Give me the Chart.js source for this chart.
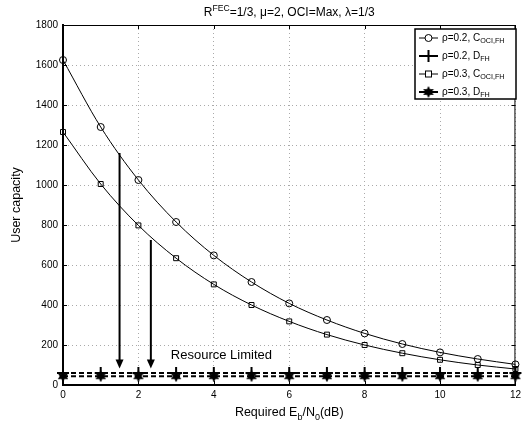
<!DOCTYPE html>
<html>
<head>
<meta charset="utf-8">
<script src="https://cdn.jsdelivr.net/npm/chart.js@4.4.0/dist/chart.umd.min.js"></script>
<style>
    html, body { margin: 0; padding: 0; background: #fff; }
    #wrap { width: 525px; height: 430px; }
</style>
</head>
<body>
<div id="wrap"><canvas id="capacityChart"></canvas></div>
<script>
const ebno = [0, 1, 2, 3, 4, 5, 6, 7, 8, 9, 10, 11, 12];
const capRho02 = [1625, 1290, 1025, 815, 648, 515, 408, 325, 258, 205, 163, 130, 103];
const capRho03 = [1265, 1005, 798, 634, 503, 400, 318, 252, 200, 159, 126, 100, 80];
const dRho02 = [60, 60, 60, 60, 60, 60, 60, 60, 60, 60, 60, 60, 60];
const dRho03 = [44, 44, 44, 44, 44, 44, 44, 44, 44, 44, 44, 44, 44];

// arrows pointing down to the resource limited level
const arrowX = [1.5, 2.33];
const arrowTop = [1160, 725];
const arrowTip = [83, 83];
const noteText = 'Resource Limited';
const noteAt = [2.86, 150];

const FONT = "'Liberation Sans', Arial, sans-serif";
const font = (size) => size + 'px ' + FONT;

function makeStar(size) {
    const c = document.createElement('canvas');
    c.width = c.height = size;
    const g = c.getContext('2d');
    const r = size / 2;
    g.fillStyle = '#000';
    g.beginPath();
    for (let i = 0; i < 12; i++) {
        const a = -Math.PI / 2 + i * Math.PI / 6;
        const rr = i % 2 === 0 ? r : r * 0.55;
        g.lineTo(r + rr * Math.cos(a), r + rr * Math.sin(a));
    }
    g.closePath();
    g.fill();
    return c;
}
const star = makeStar(12);

const toPoints = (ys) => ebno.map((x, i) => ({ x: x, y: ys[i] }));

function drawRich(ctx, parts, x, y, size, align) {
    let w = 0;
    parts.forEach(p => {
        ctx.font = font(p.sub || p.sup ? size * 0.72 : size);
        w += ctx.measureText(p.t).width;
    });
    let cx = align === 'center' ? x - w / 2 : x;
    ctx.textAlign = 'left';
    ctx.textBaseline = 'middle';
    parts.forEach(p => {
        const s = p.sub || p.sup ? size * 0.72 : size;
        ctx.font = font(s);
        const dy = p.sub ? size * 0.35 : (p.sup ? -size * 0.4 : 0);
        ctx.fillText(p.t, cx, y + dy);
        cx += ctx.measureText(p.t).width;
    });
}

const legendItems = [
    { parts: [{ t: 'ρ=0.2, C' }, { t: 'OCI,FH', sub: true }], mark: 'circle', lw: 1 },
    { parts: [{ t: 'ρ=0.2, D' }, { t: 'FH', sub: true }], mark: 'plus', lw: 2 },
    { parts: [{ t: 'ρ=0.3, C' }, { t: 'OCI,FH', sub: true }], mark: 'square', lw: 1 },
    { parts: [{ t: 'ρ=0.3, D' }, { t: 'FH', sub: true }], mark: 'star', lw: 2 }
];

function drawMark(ctx, kind, x, y) {
    ctx.save();
    ctx.strokeStyle = '#000';
    ctx.fillStyle = '#fff';
    if (kind === 'circle') {
        ctx.lineWidth = 1;
        ctx.beginPath(); ctx.arc(x, y, 3.5, 0, Math.PI * 2); ctx.fill(); ctx.stroke();
    } else if (kind === 'square') {
        ctx.lineWidth = 1;
        ctx.fillRect(x - 3, y - 3, 6, 6); ctx.strokeRect(x - 3, y - 3, 6, 6);
    } else if (kind === 'plus') {
        ctx.lineWidth = 2;
        ctx.beginPath(); ctx.moveTo(x - 6, y); ctx.lineTo(x + 6, y); ctx.moveTo(x, y - 6); ctx.lineTo(x, y + 6); ctx.stroke();
    } else {
        ctx.drawImage(star, x - 6, y - 6);
    }
    ctx.restore();
}

const decor = {
    id: 'decor',
    afterDatasetsDraw(chart) {
        const { ctx, chartArea: a, scales: { x, y } } = chart;
        ctx.save();
        // frame: thin top/right, inward ticks
        ctx.strokeStyle = '#000';
        ctx.lineWidth = 1;
        ctx.beginPath();
        ctx.moveTo(a.left, a.top + 0.5); ctx.lineTo(a.right, a.top + 0.5);
        ctx.moveTo(a.right - 0.5, a.top); ctx.lineTo(a.right - 0.5, a.bottom);
        ctx.stroke();
        ctx.beginPath();
        x.ticks.forEach(t => {
            const px = Math.round(x.getPixelForValue(t.value)) + 0.5;
            ctx.moveTo(px, a.bottom); ctx.lineTo(px, a.bottom - 4);
            ctx.moveTo(px, a.top); ctx.lineTo(px, a.top + 4);
        });
        y.ticks.forEach(t => {
            const py = Math.round(y.getPixelForValue(t.value)) + 0.5;
            ctx.moveTo(a.left, py); ctx.lineTo(a.left + 4, py);
            ctx.moveTo(a.right, py); ctx.lineTo(a.right - 4, py);
        });
        ctx.stroke();

        // arrows
        ctx.fillStyle = '#000';
        arrowX.forEach((v, i) => {
            const px = x.getPixelForValue(v);
            const top = y.getPixelForValue(arrowTop[i]);
            const tip = y.getPixelForValue(arrowTip[i]);
            ctx.lineWidth = 2;
            ctx.beginPath(); ctx.moveTo(px, top); ctx.lineTo(px, tip - 8); ctx.stroke();
            ctx.beginPath();
            ctx.moveTo(px - 4, tip - 9); ctx.lineTo(px + 4, tip - 9); ctx.lineTo(px, tip);
            ctx.closePath(); ctx.fill();
        });

        ctx.textAlign = 'left';
        ctx.textBaseline = 'middle';
        ctx.font = font(13);
        ctx.fillText(noteText, x.getPixelForValue(noteAt[0]), y.getPixelForValue(noteAt[1]));

        // legend
        const lx = 415, ly = 29, lw = 101, lh = 70;
        ctx.fillStyle = '#fff';
        ctx.fillRect(lx, ly, lw, lh);
        ctx.lineWidth = 1.5;
        ctx.strokeRect(lx, ly, lw, lh);
        legendItems.forEach((it, i) => {
            const yy = ly + 9 + i * 18;
            ctx.lineWidth = it.lw;
            ctx.strokeStyle = '#000';
            ctx.beginPath(); ctx.moveTo(419, yy); ctx.lineTo(438, yy); ctx.stroke();
            drawMark(ctx, it.mark, 428.5, yy);
            ctx.fillStyle = '#000';
            drawRich(ctx, it.parts, 442, yy, 10);
        });

        // titles
        ctx.fillStyle = '#000';
        const cx = (a.left + a.right) / 2;
        drawRich(ctx, [{ t: 'R' }, { t: 'FEC', sup: true }, { t: '=1/3, μ=2, OCI=Max, λ=1/3' }], cx, 13, 12, 'center');
        drawRich(ctx, [{ t: 'Required E' }, { t: 'b', sub: true }, { t: '/N' }, { t: '0', sub: true }, { t: '(dB)' }], cx, 413, 12.5, 'center');
        ctx.save();
        ctx.translate(17, (a.top + a.bottom) / 2);
        ctx.rotate(-Math.PI / 2);
        ctx.textAlign = 'center';
        ctx.font = font(12.5);
        ctx.fillText('User capacity', 0, 0);
        ctx.restore();
        ctx.restore();
    }
};

const ctx = document.getElementById('capacityChart').getContext('2d');
new Chart(ctx, {
    type: 'line',
    data: {
        datasets: [{
            label: 'rho=0.2 D',
            data: toPoints(dRho02),
            borderColor: '#000',
            borderWidth: 2,
            borderDash: [5, 3],
            pointStyle: 'cross',
            pointRadius: 6,
            pointBorderWidth: 2,
            pointBorderColor: '#000',
            clip: false
        }, {
            label: 'rho=0.3 D',
            data: toPoints(dRho03),
            borderColor: '#000',
            borderWidth: 2,
            borderDash: [5, 3],
            pointStyle: star,
            clip: false
        }, {
            label: 'rho=0.2 C',
            data: toPoints(capRho02),
            borderColor: '#000',
            borderWidth: 1,
            cubicInterpolationMode: 'monotone',
            pointStyle: 'circle',
            pointRadius: 3.5,
            pointBorderWidth: 1,
            pointBorderColor: '#000',
            pointBackgroundColor: 'rgba(255,255,255,0)',
            clip: false
        }, {
            label: 'rho=0.3 C',
            data: toPoints(capRho03),
            borderColor: '#000',
            borderWidth: 1,
            cubicInterpolationMode: 'monotone',
            pointStyle: 'rect',
            pointRadius: 3.5,
            pointBorderWidth: 1,
            pointBorderColor: '#000',
            pointBackgroundColor: 'rgba(255,255,255,0)',
            clip: false
        }]
    },
    options: {
        responsive: true,
        maintainAspectRatio: false,
        animation: false,
        layout: { padding: { top: 25, right: 7, left: 0, bottom: 0 } },
        plugins: {
            legend: { display: false },
            tooltip: { enabled: false },
            title: { display: false }
        },
        scales: {
            x: {
                type: 'linear',
                min: 0,
                max: 12,
                ticks: { stepSize: 2, color: '#000', font: { family: FONT, size: 10 }, padding: 4, maxRotation: 0, callback: (v) => String(v) },
                grid: { color: '#aaa', drawTicks: false },
                border: { color: '#000', width: 2, dash: [1, 3] },
                afterFit: (s) => { s.height = 45; }
            },
            y: {
                min: 0,
                max: 1800,
                ticks: { stepSize: 200, color: '#000', font: { family: FONT, size: 10 }, padding: 5, callback: (v) => String(v) },
                grid: { color: '#aaa', drawTicks: false },
                border: { color: '#000', width: 2, dash: [1, 3] },
                afterFit: (s) => { s.width = 63; }
            }
        }
    },
    plugins: [decor]
});
</script>
</body>
</html>
